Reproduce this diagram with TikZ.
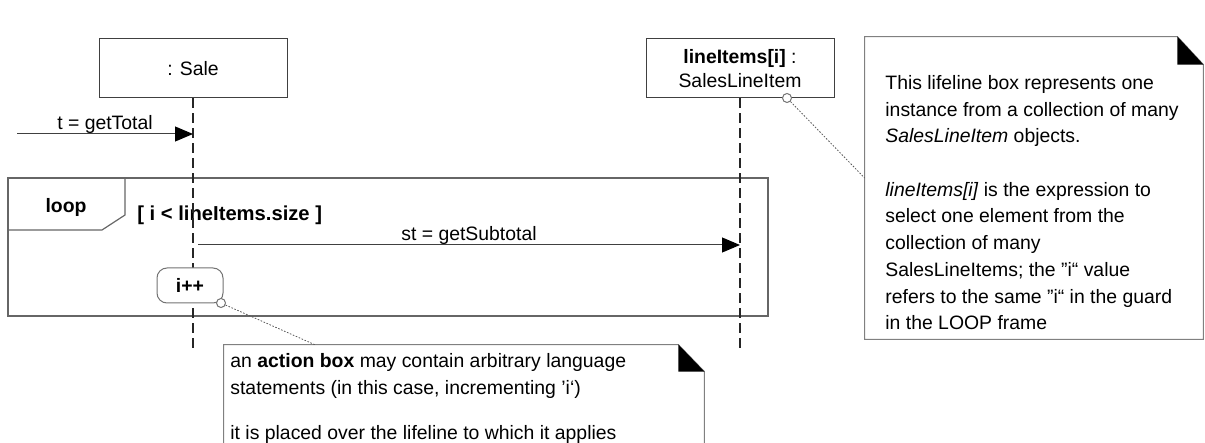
\documentclass[tikz,border=0pt]{standalone}
\usepackage{fontspec}
\setmainfont{Liberation Sans}
\usepackage{tikz}
\usetikzlibrary{arrows.meta}
\usetikzlibrary{calc}
\usetikzlibrary{positioning}
\definecolor{boxgray}{gray}{0.25}

\begin{document}
\begin{tikzpicture}[x=0.5pt,y=-0.5pt,
	every node/.style={font=\fontsize{9.7}{13.35}\selectfont},
	life_box/.style={draw=boxgray,line width=0.5pt,minimum width=94pt,minimum height=29.5pt,inner sep=0pt,align=center},
	life_line/.style={draw=black!85,dash pattern=on 5pt off 2.5pt,line width=0.6pt},
	msg/.style={draw=black!75,line width=0.5pt,-{Triangle[length=9pt,width=7.5pt,color=black]}},
	frame_line/.style={draw=black!60,line width=0.6pt},
	note_line/.style={draw=black!50,line width=0.5pt},
	pin/.style={circle,draw=black!55,fill=white,minimum size=4.5pt,inner sep=0pt,line width=0.5pt},
	pin_line/.style={draw=black!65,dash pattern=on 0.8pt off 0.8pt,line width=0.4pt},
	action_box/.style={draw=black!55,line width=0.5pt,rounded corners=5pt,minimum width=33pt,minimum height=17.5pt,inner sep=0pt,font=\bfseries\fontsize{9.7}{13.35}\selectfont}]
	\useasboundingbox (0,0) rectangle (1205,443);
	\clip (0,0) rectangle (1205,443);
	% lifeline heads
	\node[life_box] (sale) at (193,68.5) {: Sale};
	\node[life_box, font=\fontsize{9.7}{12}\selectfont] (item) at (740,68.5) {\textbf{lineItems[i]} :\\SalesLineItem};
	\coordinate (sale_end) at (193,350);
	\coordinate (item_end) at (740,350);
	% loop frame
	\draw[frame_line] (8,178) rectangle (768,316);
	\draw[frame_line] (8,230) -- (102,230) -- (125,215) -- (125,178);
	\node[font=\bfseries\fontsize{9.7}{13.35}\selectfont] (loop_tag) at (66,207) {loop};
	\node[anchor=west, inner sep=0pt, font=\bfseries\fontsize{10.1}{13.35}\selectfont] (guard) at (137,215) {[ i < lineItems.size ]};
	% lifelines
	\draw[life_line] (sale) -- (sale_end);
	\draw[life_line] (item) -- (item_end);
	% messages
	\coordinate (found) at (17,134);
	\coordinate (sale_t) at (193,134);
	\coordinate (st_from) at (198,245);
	\coordinate (item_st) at (740,245);
	\draw[msg] (found) -- node[above, inner sep=0pt] (t_label) {t = getTotal} (sale_t);
	\draw[msg] (st_from) -- node[above, inner sep=0pt] (st_label) {st = getSubtotal} (item_st);
	% action box
	\node[action_box, fill=white] (incr) at (190,285.5) {i++};
	% notes
	\node[minimum width=169pt, minimum height=151pt, inner sep=0pt] (note_r) at (1034,188) {};
	\draw[note_line] (note_r.north west) -- ([xshift=-13pt]note_r.north east) -- ([yshift=-14pt]note_r.north east) -- (note_r.south east) -- (note_r.south west) -- cycle;
	\fill ([xshift=-13pt]note_r.north east) -- ([yshift=-14pt]note_r.north east) -- ([xshift=-13pt,yshift=-14pt]note_r.north east) -- cycle;
	\node[anchor=north west, inner sep=0pt, align=left] (note_r_text) at (885,75) {This lifeline box represents one\\instance from a collection of many\\\textit{SalesLineItem} objects.\\[13.35pt]\textit{lineItems[i]} is the expression to\\select one element from the\\collection of many\\SalesLineItems; the ”i“ value\\refers to the same ”i“ in the guard\\in the LOOP frame};
	\node[minimum width=240pt, minimum height=62.5pt, inner sep=0pt] (note_b) at (464,407.5) {};
	\draw[note_line] (note_b.north west) -- ([xshift=-13pt]note_b.north east) -- ([yshift=-13.5pt]note_b.north east) -- (note_b.south east) -- (note_b.south west) -- cycle;
	\fill ([xshift=-13pt]note_b.north east) -- ([yshift=-13.5pt]note_b.north east) -- ([xshift=-13pt,yshift=-13.5pt]note_b.north east) -- cycle;
	\node[anchor=north west, inner sep=0pt, align=left] (note_b_text) at (230,353) {an \textbf{action box} may contain arbitrary language\\statements (in this case, incrementing ’i‘)\\[9.2pt]it is placed over the lifeline to which it applies};
	% pins
	\node[pin] (pin_item) at (787,98) {};
	\node[pin] (pin_incr) at (221,303) {};
	\draw[pin_line] (pin_item) -- ([yshift=5pt]note_r.west);
	\draw[pin_line] (pin_incr) -- ([xshift=45.5pt]note_b.north west);
\end{tikzpicture}
\end{document}
